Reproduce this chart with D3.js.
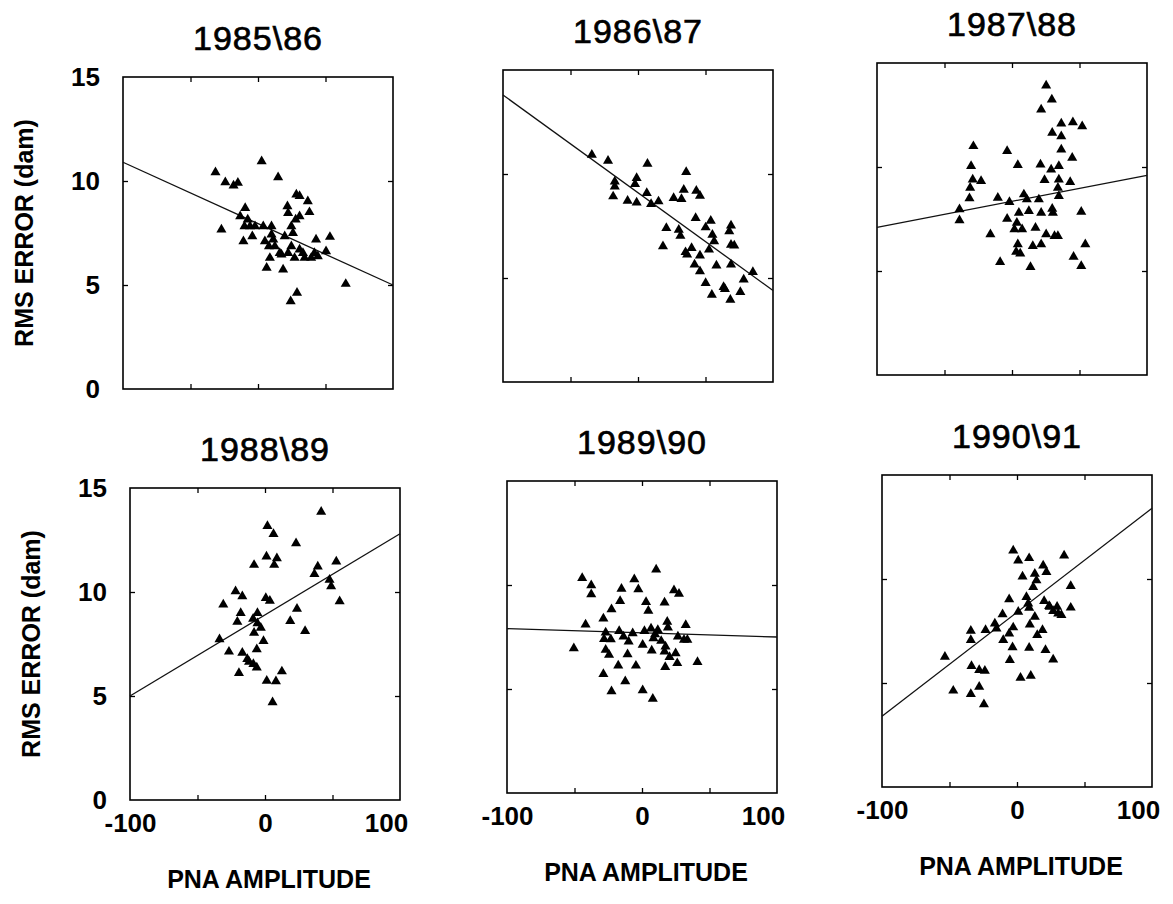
<!DOCTYPE html>
<html>
<head>
<meta charset="utf-8">
<script src="https://cdn.jsdelivr.net/npm/d3@7"></script>
<style>
  body { margin: 0; background: #fff; }
  text { font-family: "Liberation Sans", Arial, sans-serif; fill: #000; }
</style>
</head>
<body>
<div id="root"></div>
<script>
// values: [PNA amplitude, RMS error (dam)]
const seasons = ['1985\\86', '1986\\87', '1987\\88', '1988\\89', '1989\\90', '1990\\91'];

const pts8586 = [[-31.5,10.42],[-27.1,7.66],[-24.2,9.94],[-18.1,9.78],[-14.9,9.91],[-9.5,8.7],[-13.2,8.3],[-7.6,8.14],
  [-10,7.82],[-5.9,7.82],[-2.2,7.82],[-10.8,7.1],[-4.2,7.34],[2.7,10.95],[14.9,10.18],[3.9,7.82],[10,7.82],[10,7.42],
  [5.1,7.1],[8.1,6.86],[12.5,6.86],[16.1,6.54],[8.8,6.3],[6.4,5.82],[18.6,5.74],[19.8,7.34],[21.8,8.78],[22.3,8.46],
  [24.7,7.82],[25.9,7.5],[24.7,6.86],[28.4,9.35],[30.8,9.27],[27.9,8.14],[30.8,8.3],[36.9,9.02],[38.1,8.5],[27.1,6.3],
  [30.8,6.7],[34.5,6.3],[39.4,6.3],[41.8,6.54],[43,7.18],[50.4,6.62],[53.3,7.31],[65,5.05],[24.2,4.22],[28.9,4.62],
  [17.4,6.46],[22.3,6.54],[11.3,7.18],[44.3,6.38],[33.3,6.54]];

const pts8687 = [[-34.2,10.92],[-22.2,10.63],[7,10.49],[35.7,10.09],[-17.2,9.64],[-17.2,9.4],[-1,9.8],[-2.2,9.51],
  [-18.4,8.92],[-7.7,8.71],[-1,8.63],[6.5,9.08],[9.7,8.55],[15.2,8.68],[26.4,8.84],[32.2,8.79],[33.9,9.24],[43.2,9.19],
  [45.9,8.95],[42.7,7.88],[53.9,7.75],[50.1,7.43],[55.1,7.08],[56.4,6.76],[68.9,7.52],[67.6,7.24],[68.9,6.6],[71.3,6.56],
  [21,7.4],[30.2,7.32],[31.4,7.03],[18.5,6.52],[36.4,6.12],[35.2,6.24],[39.7,6.44],[45.9,6.08],[52.6,6.36],[41.9,5.64],
  [45.9,5.32],[58.1,5.6],[68.9,5.64],[50.1,4.76],[63.4,4.56],[54.7,4.19],[68.4,3.95],[75.8,4.32],[78.3,4.92],[85.1,5.28],
  [64.4,4.47]];

const pts8788 = [[25.3,13.91],[29.5,13.24],[21.6,12.76],[36.5,12.09],[45.1,12.15],[52,11.96],[29.8,11.64],[36.5,11.48],
  [36.5,10.84],[44.6,10.44],[-28.6,11],[-3.6,10.76],[-30.3,10.04],[4.3,10.09],[21.1,10.12],[29,9.88],[34.7,10.04],
  [-29.1,9.4],[-22.9,9.32],[-31,9],[24.1,9.37],[34.7,9.4],[43.1,9.27],[34,9],[34.7,8.6],[-31.5,8.49],[-10.5,8.52],
  [-1.9,8.31],[8.8,8.68],[11,8.44],[19.9,8.44],[-38.9,7.96],[-38.9,7.44],[5.1,7.8],[12.5,7.88],[21.6,7.8],[29.8,7.99],
  [30.3,7.8],[51.3,7.84],[-3.6,7.51],[3.6,7.32],[1.8,7],[7.5,7],[17.4,7.08],[-16,6.76],[25.3,6.76],[31.5,6.68],[34,6.68],
  [4.3,6.28],[15.4,6.2],[21.6,6.28],[54.3,6.28],[3.1,5.92],[6.1,5.84],[-8.8,5.43],[13.7,5.19],[45.6,5.68],[51.3,5.24]];

const pts8889 = [[41.6,13.85],[1.8,13.17],[6.3,12.78],[23,12.34],[-8.1,11.3],[1.1,11.7],[8.8,11.62],[6.8,11.3],
  [52.8,11.46],[39.1,11.22],[36.6,10.86],[47.8,10.59],[49,10.27],[55.3,9.55],[-21.8,10.03],[-16.8,9.79],[0.6,9.71],
  [3.6,9.58],[-30.9,9.39],[-18,8.99],[-5.6,8.99],[-8.8,8.71],[-20.5,8.57],[-3.1,8.28],[-8.1,8.04],[18.7,8.6],[23.7,9.19],
  [29.7,8.12],[-33.7,7.72],[-1.1,7.64],[-26.7,7.13],[-16.8,7.08],[-6.1,7.24],[-13.1,6.77],[-8.6,6.53],[-6.1,6.37],
  [-19.3,6.1],[12.5,6.18],[1.3,5.73],[8.1,5.7],[5.6,4.7],[-11.8,6.64],[-5.6,8.49]];

const pts8990 = [[10.5,10.74],[-44.3,10.33],[-5.7,10.27],[-37.6,9.98],[-37.6,9.55],[-15.2,9.82],[-2.7,9.79],[23.7,9.74],
  [27.4,9.58],[-16.2,9.23],[3,9.18],[16.7,9.15],[4.7,8.76],[-22.6,8.83],[-28.6,8.39],[-41.8,8.1],[18.7,8.23],[19.2,7.95],
  [32.4,8.07],[-26.9,7.71],[-28.1,7.4],[-23.1,7.39],[-16.9,7.79],[-13.7,7.52],[-6.9,7.68],[-9.9,7.28],[1.8,7.79],[6.7,7.91],
  [9.7,7.63],[11.7,7.83],[8.5,7.44],[0.5,7.12],[14.2,7.31],[26.6,7.52],[31.1,7.36],[33.6,7.36],[-50.5,6.96],[-26.9,6.88],
  [-24.4,6.64],[-10.7,6.67],[7.2,6.85],[17.4,7.04],[16.7,6.8],[20.4,6.53],[24.9,6.72],[26.1,6.24],[41.1,6.29],[-17.6,6.13],
  [-4.5,6.12],[17.2,6.05],[-28.6,5.72],[-12.4,5.37],[-22.6,4.89],[0.5,4.94],[8,4.53]];

const pts9091 = [[-2.8,11.37],[0.9,10.89],[9,11],[34.9,11.13],[19.4,10.65],[21.8,10.33],[4.1,10.12],[13.2,10.25],
  [14.4,9.93],[12,9.61],[39.8,9.66],[-5.8,9.02],[7,9.13],[8.3,8.82],[9,8.61],[20.1,8.94],[23.8,8.7],[26.8,8.46],[30.5,8.34],
  [32.9,8.26],[39.8,8.62],[29.7,8.66],[0.9,8.42],[-10.7,8.3],[13.2,8.18],[-16.4,7.86],[-23.3,7.54],[-15.2,7.62],[-34.2,7.51],
  [-34.2,7.06],[-2.8,7.67],[-5.8,7.38],[-10.2,7.06],[9.5,7.81],[18.9,7.54],[15,7.3],[-3.3,6.71],[9,6.69],[21.1,6.58],
  [-53.4,6.26],[-5.3,6.1],[26.8,6.13],[-33.7,5.81],[-28,5.62],[-23.8,5.59],[2.6,5.25],[10.2,5.35],[-47.2,4.63],[-28,4.82],
  [-34.2,4.47],[-24.5,3.98],[24.3,8.66]];

// fitted line: RMS error at PNA = -100 and at PNA = +100
const fitAtMinus100 = [10.9, 13.8, 7.1, 5.0, 7.9, 3.4];
const fitAtPlus100 = [5.0, 4.4, 9.6, 12.8, 7.5, 13.4];

const xTickLabels = [-100, 0, 100];
const yTickLabels = [0, 5, 10, 15];
const innerTicksX = [-50, 0, 50];
const innerTicksY = [5, 10];

const allPoints = [pts8586, pts8687, pts8788, pts8889, pts8990, pts9091];

// panel frames, following the (slightly skewed) scan
const frames = [
  {x: 123, y: 77}, {x: 503, y: 70}, {x: 877, y: 63},
  {x: 130, y: 488}, {x: 507, y: 481}, {x: 882, y: 475}
];
const pw = 270, ph = 312;

const svg = d3.select('#root').append('svg')
  .attr('width', 1173)
  .attr('height', 904);
svg.append('rect').attr('width', 1173).attr('height', 904).attr('fill', '#fff');

const x = d3.scaleLinear().domain([-100, 100]).range([0, pw]);
const y = d3.scaleLinear().domain([0, 15]).range([ph, 0]);
const tri = d3.symbol(d3.symbolTriangle).size(44);
const plain = d => String(d);   // hyphen minus, as in the original

seasons.forEach((name, i) => {
  const col = i % 3, row = Math.floor(i / 3);
  const g = svg.append('g').attr('transform', `translate(${frames[i].x},${frames[i].y})`);

  g.append('text')
    .attr('x', pw / 2)
    .attr('y', -27)
    .attr('text-anchor', 'middle')
    .style('font-size', '34px')
    .style('letter-spacing', '1px')
    .style('stroke', '#000')
    .style('stroke-width', 0.7)
    .text(name);

  // inner ticks on all four sides
  const tickStyle = sel => { sel.select('.domain').remove(); sel.selectAll('line').attr('stroke', '#000').attr('stroke-width', 1.3); };
  g.append('g').attr('transform', `translate(0,${ph})`)
    .call(d3.axisBottom(x).tickValues(innerTicksX).tickSize(-5).tickFormat('')).call(tickStyle);
  g.append('g')
    .call(d3.axisTop(x).tickValues(innerTicksX).tickSize(-5).tickFormat('')).call(tickStyle);
  g.append('g')
    .call(d3.axisLeft(y).tickValues(innerTicksY).tickSize(-5).tickFormat('')).call(tickStyle);
  g.append('g').attr('transform', `translate(${pw},0)`)
    .call(d3.axisRight(y).tickValues(innerTicksY).tickSize(-5).tickFormat('')).call(tickStyle);

  g.append('rect')
    .attr('width', pw).attr('height', ph)
    .attr('fill', 'none').attr('stroke', '#000').attr('stroke-width', 1.6);

  g.append('line')
    .attr('x1', x(-100)).attr('y1', y(fitAtMinus100[i]))
    .attr('x2', x(100)).attr('y2', y(fitAtPlus100[i]))
    .attr('stroke', '#111').attr('stroke-width', 1.3);

  g.selectAll('path.pt')
    .data(allPoints[i]).enter()
    .append('path')
    .attr('class', 'pt')
    .attr('d', tri)
    .attr('transform', d => `translate(${x(d[0])},${y(d[1])})`)
    .attr('fill', '#000');

  if (col === 0) {
    const ya = g.append('g')
      .call(d3.axisLeft(y).tickValues(yTickLabels).tickSize(0).tickPadding(23).tickFormat(plain));
    ya.select('.domain').remove();
    ya.selectAll('text')
      .style('font-size', '26px')
      .style('font-weight', 'bold')
      .style('font-family', '"Liberation Sans", Arial, sans-serif');

    g.append('text')
      .attr('transform', `translate(-90,${ph / 2}) rotate(-90)`)
      .attr('text-anchor', 'middle')
      .style('font-size', '25px')
      .style('font-weight', 'bold')
      .text('RMS ERROR (dam)');
  }

  if (row === 1) {
    const xa = g.append('g').attr('transform', `translate(0,${ph})`)
      .call(d3.axisBottom(x).tickValues(xTickLabels).tickSize(0).tickPadding(14).tickFormat(plain));
    xa.select('.domain').remove();
    xa.selectAll('text')
      .style('font-size', '26px')
      .style('font-weight', 'bold')
      .style('font-family', '"Liberation Sans", Arial, sans-serif')
      .attr('dx', d => d === 100 ? -14 : 0);

    g.append('text')
      .attr('x', pw / 2 + 4)
      .attr('y', ph + 88)
      .attr('text-anchor', 'middle')
      .style('font-size', '25px')
      .style('font-weight', 'bold')
      .text('PNA AMPLITUDE');
  }
});
</script>
</body>
</html>
